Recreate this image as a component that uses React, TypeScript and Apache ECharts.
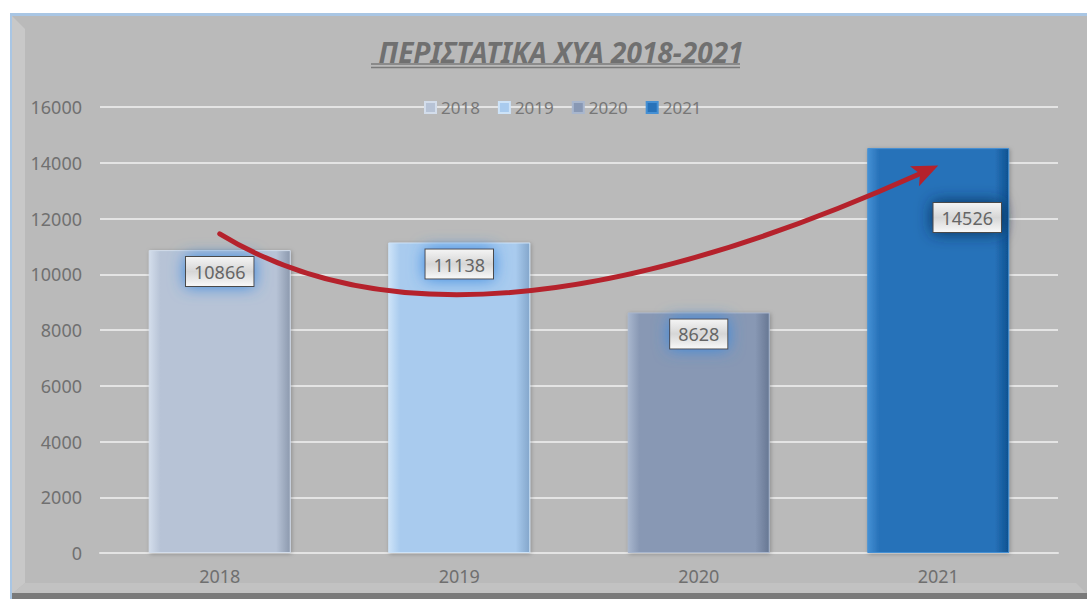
import React, { useEffect, useRef } from "react";
import * as echarts from "echarts";

const categories = ["2018", "2019", "2020", "2021"];
const values = [10866, 11138, 8628, 14526];
const yTicks = [0, 2000, 4000, 6000, 8000, 10000, 12000, 14000, 16000];
const titleText = "ΠΕΡΙΣΤΑΤΙΚΑ ΧΥΑ 2018-2021";
// trend arrow anchor points, in data units [category index, value]
const arrowStart = [0, 11450];
const arrowControl = [1.17, 6200];
const arrowEnd = [3, 13900];

const barColors = [
  { light: "#d3ddeb", base: "#b7c3d6", dark: "#8c99ae" },
  { light: "#cde3f8", base: "#a9cbee", dark: "#83a6cb" },
  { light: "#a8b6cd", base: "#8898b4", dark: "#677793" },
  { light: "#4590d4", base: "#2872b9", dark: "#0d5190" },
];
const glowColors = ["#3b8ae0", "#3b8ae0", "#3b8ae0", "rgba(8,40,80,0.9)"];

export default function App() {
  const ref = useRef<HTMLDivElement>(null);
  useEffect(() => {
    document.body.style.margin = "0";
    const chart = echarts.init(ref.current!, null, { renderer: "svg" });
    const font = "Noto Sans";
    const series = categories.map((c, i) => ({
      name: c,
      type: "bar",
      barWidth: 142,
      barGap: "-100%",
      data: values.map((v, j) => (j === i ? v : "-")),
      itemStyle: {
        color: new echarts.graphic.LinearGradient(0, 0, 1, 0, [
          { offset: 0, color: barColors[i].light },
          { offset: 0.08, color: barColors[i].base },
          { offset: 0.9, color: barColors[i].base },
          { offset: 1, color: barColors[i].dark },
        ]),
        borderColor: barColors[i].light,
        borderWidth: 1,
        shadowColor: "rgba(0,0,0,0.25)",
        shadowBlur: 4,
        shadowOffsetX: 1,
        shadowOffsetY: 1,
      },
      label: {
        show: true,
        position: "insideTop",
        distance: 7,
        offset: i === 3 ? [29, 48] : [0, 0],
        color: "#666666",
        fontFamily: font,
        fontSize: 18,
        padding: [6, 8, 5, 8],
        backgroundColor: new echarts.graphic.LinearGradient(0, 0, 0, 1, [
          { offset: 0, color: "#f4f4f4" },
          { offset: 0.5, color: "#d6d6d6" },
          { offset: 1, color: "#f8f8f8" },
        ]),
        borderColor: "#4a4a4a",
        borderWidth: 1,
        shadowColor: glowColors[i],
        shadowBlur: 16,
      },
      z: 3,
    }));

    chart.setOption({
      animation: false,
      backgroundColor: "#ffffff",
      title: {
        text: titleText,
        left: 556,
        top: 33,
        textAlign: "center",
        textStyle: {
          fontFamily: font,
          fontSize: 28,
          fontStyle: "italic",
          fontWeight: "bold",
          color: "#707070",
        },
      },
      legend: {
        data: categories,
        left: 419,
        top: 94,
        itemWidth: 11,
        itemHeight: 11,
        itemGap: 18,
        icon: "rect",
        textStyle: { fontFamily: font, fontSize: 17, color: "#777777" },
      },
      grid: { left: 100, right: 34, top: 107, bottom: 46 },
      xAxis: {
        type: "category",
        data: categories,
        axisLine: { show: true, lineStyle: { color: "#e4e4e4", width: 2 } },
        axisTick: { show: false },
        axisLabel: { color: "#6f6f6f", fontFamily: font, fontSize: 18, margin: 14 },
      },
      yAxis: {
        type: "value",
        min: yTicks[0],
        max: yTicks[yTicks.length - 1],
        interval: yTicks[1] - yTicks[0],
        axisLine: { show: false },
        axisTick: { show: false },
        axisLabel: {
          color: "#707070",
          fontFamily: font,
          fontSize: 18,
          margin: 18,
          formatter: (v: number) => String(v),
        },
        splitLine: { lineStyle: { color: "#e4e4e4", width: 2 } },
      },
      series,
      graphic: [
        { type: "rect", id: "panel", z: -100, shape: { x: 10, y: 13, width: 1077, height: 586 }, style: { fill: "#a9c6e4" } },
        { type: "rect", id: "panel2", z: -99, shape: { x: 12, y: 16, width: 1075, height: 583 }, style: { fill: "#bababa" } },
        { type: "polygon", id: "bevelL", z: -98, shape: { points: [[12, 16], [25, 29], [25, 583], [12, 594]] }, style: { fill: "#c8c8c8" } },
        { type: "polygon", id: "bevelB", z: -98, shape: { points: [[12, 594], [25, 583], [1076, 583], [1087, 594]] }, style: { fill: "#c2c2c2" } },
        { type: "rect", id: "bottom", z: -97, shape: { x: 12, y: 593, width: 1075, height: 6 }, style: { fill: "#7a7a7a" } },
        { type: "line", id: "ul1", z: 5, shape: { x1: 371, y1: 64, x2: 740, y2: 64 }, style: { stroke: "#7a7a7a", lineWidth: 1.5 } },
        { type: "line", id: "ul2", z: 5, shape: { x1: 371, y1: 67.5, x2: 740, y2: 67.5 }, style: { stroke: "#7a7a7a", lineWidth: 1.5 } },
      ],
    });

    const p0 = chart.convertToPixel({ gridIndex: 0 }, arrowStart) as number[];
    const pc = chart.convertToPixel({ gridIndex: 0 }, arrowControl) as number[];
    const p2 = chart.convertToPixel({ gridIndex: 0 }, arrowEnd) as number[];
    const dx = p2[0] - pc[0];
    const dy = p2[1] - pc[1];
    const len = Math.sqrt(dx * dx + dy * dy);
    const ux = dx / len;
    const uy = dy / len;
    const headLen = 26;
    const headW = 11;
    const bx = p2[0] - ux * headLen;
    const by = p2[1] - uy * headLen;
    chart.setOption({
      graphic: [
        {
          type: "bezierCurve",
          id: "arrowCurve",
          z: 50,
          shape: { x1: p0[0], y1: p0[1], cpx1: pc[0], cpy1: pc[1], x2: bx + ux * 4, y2: by + uy * 4 },
          style: { stroke: "#b5222c", lineWidth: 5, fill: null, lineCap: "round" },
        },
        {
          type: "polygon",
          id: "arrowHead",
          z: 51,
          shape: {
            points: [
              [p2[0], p2[1]],
              [bx - uy * headW, by + ux * headW],
              [bx + ux * 6, by + uy * 6],
              [bx + uy * headW, by - ux * headW],
            ],
          },
          style: { fill: "#b5222c" },
        },
      ],
    });

    return () => chart.dispose();
  }, []);
  return <div ref={ref} style={{ width: 1092, height: 599 }} />;
}
